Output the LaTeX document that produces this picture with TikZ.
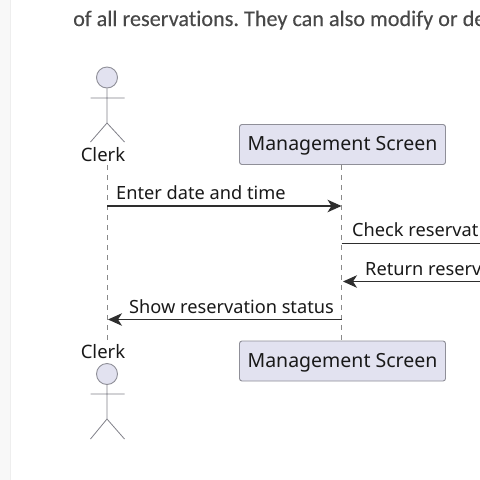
\documentclass[tikz,border=0pt]{standalone}
\usepackage{fontspec}
\setmainfont{Noto Sans}
\newfontfamily\headfont[Ligatures=NoCommon,FakeBold=0.25]{Carlito}
\usetikzlibrary{arrows.meta}
\definecolor{boxfill}{HTML}{E2E2F0}
\definecolor{boxline}{HTML}{8F8F98}
\definecolor{lifeline}{HTML}{8A8A8A}
\definecolor{msgline}{HTML}{2E2E2E}
\definecolor{sidefill}{HTML}{F8F8F8}
\definecolor{sideline}{HTML}{EEEEEE}
\definecolor{headtext}{HTML}{484848}
\tikzset{
  x=1pt,y=-1pt,
  partbox/.style={draw=boxline,fill=boxfill,rounded corners=2.5pt,line width=.9pt,minimum width=206pt,minimum height=40pt,inner sep=0pt,text height=14pt,text depth=2pt,font=\fontsize{19.5}{24}\selectfont,text=black!90},
  actorlabel/.style={inner sep=0pt,anchor=base,font=\fontsize{18.5}{22}\selectfont,text=black!90},
  msglabel/.style={inner sep=0pt,anchor=base west,font=\fontsize{18.2}{22}\selectfont,text=black!90},
  lifelinestyle/.style={draw=lifeline,line width=.8pt,dash pattern=on 5pt off 5pt},
  msg/.style={draw=msgline,line width=1.2pt},
  msgarrow/.style={msg,-{Stealth[length=14pt,width=12.5pt,inset=4pt]}},
  limb/.style={draw=boxline!90!black,line width=.8pt},
  headdisc/.style={circle,draw=boxline,fill=boxfill,line width=.9pt,minimum size=21pt,inner sep=0pt}
}
\begin{document}
\begin{tikzpicture}
\useasboundingbox (0,0) rectangle (480,480);
\fill[white] (0,0) rectangle (480,480);
\fill[sidefill] (0,0) rectangle (10,480);
\draw[sideline,line width=1pt] (10.5,0) -- (10.5,480);
\node[anchor=base west,inner sep=0pt,text=headtext,font=\headfont\frenchspacing\fontsize{22.2}{30}\selectfont] (head) at (73,26) {of all reservations. They can also modify or de};

% top actor
\node[headdisc] (h1) at (107,77.5) {};
\coordinate (a1l) at (90.5,98); \coordinate (a1r) at (124.5,98);
\coordinate (hip1) at (107,123); \coordinate (l1l) at (90.5,142); \coordinate (l1r) at (124.5,142);
\draw[limb] (h1) -- (hip1) (a1l) -- (a1r) (l1l) -- (hip1) -- (l1r);
\node[actorlabel] (c1) at (103,161) {Clerk};

% bottom actor
\node[headdisc] (h2) at (107,374) {};
\coordinate (a2l) at (90.5,394); \coordinate (a2r) at (124.5,394);
\coordinate (hip2) at (107,419); \coordinate (l2l) at (90.5,439); \coordinate (l2r) at (124.5,439);
\draw[limb] (h2) -- (hip2) (a2l) -- (a2r) (l2l) -- (hip2) -- (l2r);
\node[actorlabel] (c2) at (103,358) {Clerk};

% participants
\node[partbox] (m1) at (342.5,144.5) {Management Screen};
\node[partbox] (m2) at (342.5,361) {Management Screen};

% lifelines
\coordinate (ct) at (107,165); \coordinate (cb) at (107,341);
\draw[lifelinestyle] (ct) -- (cb);
\draw[lifelinestyle] (m1.south -| 341.5,0) -- (m2.north -| 341.5,0);

% messages
\coordinate (e1a) at (107,206); \coordinate (e1b) at (341.5,206);
\draw[msgarrow] (e1a) -- (e1b);
\node[msglabel] (t1) at (116,199.5) {Enter date and time};
\coordinate (e2a) at (341.5,243.5); \coordinate (e2b) at (480,243.5);
\draw[msg] (e2a) -- (e2b);
\node[msglabel] (t2) at (352,236.5) {Check reservat};
\coordinate (e3a) at (480,281.5); \coordinate (e3b) at (343,281.5);
\draw[msgarrow] (e3a) -- (e3b);
\node[msglabel] (t3) at (365,275) {Return reserv};
\coordinate (e4a) at (341.5,319.5); \coordinate (e4b) at (108,319.5);
\draw[msgarrow] (e4a) -- (e4b);
\node[msglabel] (t4) at (129,313) {Show reservation status};
\end{tikzpicture}
\end{document}
